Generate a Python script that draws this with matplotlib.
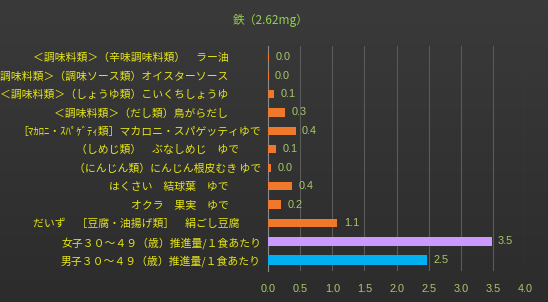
import matplotlib
matplotlib.use("Agg")
import matplotlib.pyplot as plt
import numpy as np
from matplotlib.colors import LinearSegmentedColormap

title = "鉄（2.62mg）"
categories = [
    "＜調味料類＞（辛味調味料類）　ラー油　　　",
    "調味料類＞（調味ソース類）オイスターソース　　　",
    "＜調味料類＞（しょうゆ類）こいくちしょうゆ　　　",
    "＜調味料類＞（だし類）鳥がらだし　　　",
    "［ﾏｶﾛﾆ・ｽﾊﾟｹﾞﾃｨ類］マカロニ・スパゲッティゆで",
    "（しめじ類）　ぶなしめじ　ゆで　　",
    "（にんじん類）にんじん根皮むき ゆで",
    "はくさい　結球葉　ゆで　　　",
    "オクラ　果実　ゆで　　　",
    "だいず　［豆腐・油揚げ類］　絹ごし豆腐　　",
    "女子３０～４９（歳）推進量/１食あたり",
    "男子３０～４９（歳）推進量/１食あたり",
]
values = [0.02, 0.01, 0.09, 0.26, 0.43, 0.13, 0.05, 0.37, 0.21, 1.08, 3.48, 2.48]
value_labels = ["0.0", "0.0", "0.1", "0.3", "0.4", "0.1", "0.0", "0.4", "0.2", "1.1", "3.5", "2.5"]
colors = ["#F0782A"] * 10 + ["#CC99FF", "#00B0F0"]
xticks = [0.0, 0.5, 1.0, 1.5, 2.0, 2.5, 3.0, 3.5, 4.0]

plt.rcParams['font.family'] = ['Noto Sans CJK JP', 'DejaVu Sans']

fig = plt.figure(figsize=(5.48, 3.02), dpi=100)
bg = fig.add_axes([0, 0, 1, 1], zorder=-10)
grad = np.linspace(0, 1, 256).reshape(-1, 1)
cmap = LinearSegmentedColormap.from_list("bg", ["#3a3a3a", "#2c2c2c"])
bg.imshow(grad, aspect='auto', cmap=cmap, extent=[0, 1, 0, 1])
bg.axis('off')

ax = fig.add_axes([268/548, 1 - 271/302, (525-268)/548, (271-46)/302])
ax.patch.set_alpha(0)
n = len(categories)
y = np.arange(n)[::-1]
heights = [0.45] * 10 + [0.5, 0.5]
ax.barh(y, values, height=heights, color=colors, zorder=3)
for yi, v, lab in zip(y, values, value_labels):
    ax.text(v + 0.1, yi, lab, va='center', ha='left', color='#A8C96A', fontsize=7.8,
            family=['Liberation Sans', 'DejaVu Sans'])
ax.set_xlim(0, 4.0)
ax.set_ylim(-0.6, n - 0.4)
ax.set_xticks(xticks)
ax.set_xticklabels([f"{t:.1f}" for t in xticks], color='#A8C96A', fontsize=7.8,
                   family=['Liberation Sans', 'DejaVu Sans'])
ax.set_yticks(y)
ax.set_yticklabels(categories, color='#E6E619', fontsize=7.8)
ax.tick_params(axis='y', length=0, pad=5)
ax.tick_params(axis='x', length=0, pad=9)
ax.grid(axis='x', color='#5a5a5a', linewidth=0.8, zorder=0)
for s in ['top', 'right', 'bottom']:
    ax.spines[s].set_visible(False)
ax.spines['left'].set_color('#8a8a8a')
ax.spines['left'].set_linewidth(0.8)

fig.text(271/548, 1 - 20/302, title, ha='center', va='center', color='#92D050', fontsize=8.5)

fig.savefig("out.png", dpi=100)
